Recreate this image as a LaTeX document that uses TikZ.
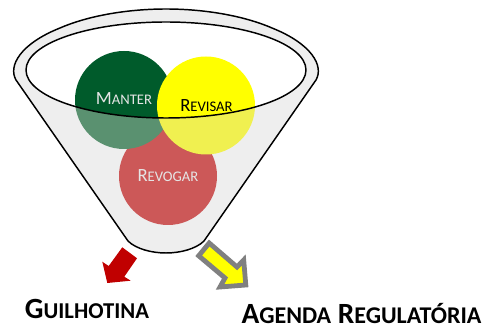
\documentclass[tikz,border=0pt]{standalone}
\usepackage{fontspec}
\setmainfont{Carlito}
\definecolor{pureyellow}{RGB}{255,255,0}
\definecolor{paleyellow}{RGB}{240,240,80}
\definecolor{darkgreen}{RGB}{0,91,43}
\definecolor{palegreen}{RGB}{90,145,112}
\definecolor{palered}{RGB}{204,88,88}
\definecolor{arrowred}{RGB}{192,0,0}
\definecolor{arrowgray}{RGB}{128,128,128}
\definecolor{funnelgray}{RGB}{238,238,238}
\newcommand{\sct}[4]{{\fontsize{#1}{#1}\selectfont #3}{\fontsize{#2}{#2}\selectfont #4}}
\tikzset{
  funneledge/.style={draw=black,line width=1.1pt},
  disc/.style={circle,minimum size=73.5pt,inner sep=0pt,draw=none},
  lab/.style={inner sep=0pt},
  bigl/.style={inner sep=0pt,text=black,font=\bfseries,anchor=base}
}
\begin{document}
\begin{tikzpicture}[x=0.75pt,y=-0.75pt]
\useasboundingbox (0,0) rectangle (483,327);
\path[fill=white] (0,0) rectangle (483,327);
% funnel
\path[funneledge,fill=funnelgray]
  (16,80) .. controls (8,66) and (20,44) .. (60,28)
  .. controls (90,15) and (130,9) .. (166,9)
  .. controls (202,9) and (242,15) .. (272,28)
  .. controls (312,44) and (324,66) .. (316,80)
  -- (204,241) .. controls (196,249) and (180,253) .. (166,253)
  .. controls (152,253) and (136,249) .. (128,241) -- cycle;
% discs below the rim
\node[disc,fill=palered] (revogar) at (168,176) {};
\node[disc,fill=palegreen] (manter) at (124,100) {};
\node[disc,fill=paleyellow] (revisar) at (206,105.5) {};
% inner mouth and discs above the rim
\path[fill=white] (166,70) ellipse [x radius=140,y radius=48];
\begin{scope}
  \clip (166,70) ellipse [x radius=140,y radius=48];
  \node[disc,fill=darkgreen] at (124,100) {};
  \node[disc,fill=pureyellow] at (206,105.5) {};
\end{scope}
\draw[funneledge] (166,70) ellipse [x radius=140,y radius=48];
% labels
\node[lab,text=white!90!black] (tm) at (124,99) {\sct{14}{11}{M}{ANTER}};
\node[lab,text=black] (tr) at (206.5,105.5) {\sct{14}{11}{R}{EVISAR}};
\node[lab,text=white!90!black] (tv) at (168,176) {\sct{14}{11}{R}{EVOGAR}};
\node[bigl] (g) at (87,319) {\sct{22}{17}{G}{UILHOTINA}};
\node[bigl] (a) at (361.5,324) {\sct{22}{18}{A}{GENDA}\hspace{5pt}\sct{22}{18}{R}{EGULATÓRIA}};
% arrows
\path[fill=arrowred]
 (122.3,247.3) -- (137,258.3) -- (124.3,276.7) -- (130.7,280.7) -- (107.3,283) -- (102.3,261.7) -- (108.7,266) -- cycle;
\path[draw=arrowgray,line width=3.6pt,fill=pureyellow,miter limit=10]
 (209.2,243) -- (198.7,255.8) -- (225,278) -- (220,287) -- (245.8,285) -- (243.7,260) -- (237,267) -- cycle;
\end{tikzpicture}
\end{document}
